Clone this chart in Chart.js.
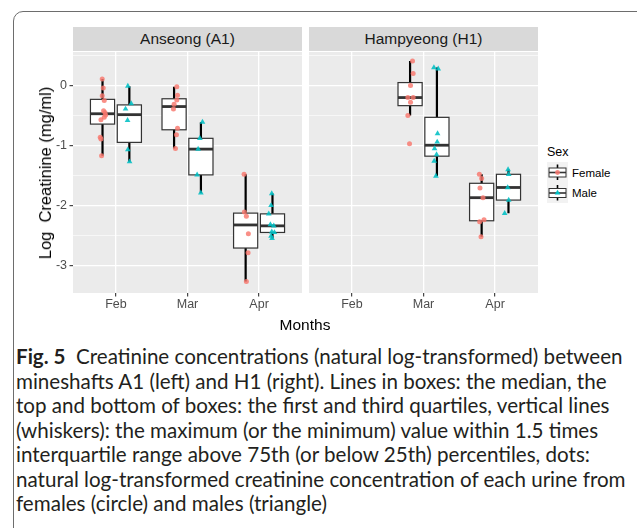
<!DOCTYPE html>
<html><head><meta charset="utf-8">
<script src="https://cdn.jsdelivr.net/npm/chart.js@4.4.0/dist/chart.umd.min.js"></script>
<style>
html,body{margin:0;padding:0;background:#fff;}
body{width:637px;height:528px;position:relative;overflow:hidden;font-family:"Liberation Sans",Arial,sans-serif;}
.frame{position:absolute;left:13px;top:11px;width:660px;height:580px;border:1px solid #6d6d6d;border-radius:10px;box-sizing:border-box;}
.strip{position:absolute;top:27px;height:24px;background:#d9d9d9;color:#1a1a1a;font-size:15.5px;line-height:24px;text-align:center;white-space:nowrap;}
canvas{position:absolute;}
#ytitle{position:absolute;left:45px;top:172.5px;transform:translate(-50%,-50%) rotate(-90deg);white-space:pre;font-size:16.5px;color:#000;line-height:20px;}
#xtitle{position:absolute;left:305px;top:325px;transform:translate(-50%,-50%);font-size:15.5px;color:#000;white-space:nowrap;line-height:20px;}
#legtitle{position:absolute;left:547px;top:144px;font-size:12.5px;color:#000;line-height:16px;}
.leglab{position:absolute;left:572px;font-size:11.5px;color:#000;line-height:14px;}
#caption{position:absolute;left:16px;top:344px;font-family:Lato,"Noto Sans",sans-serif;color:#231f20;}
#caption div{height:24.5px;line-height:24.5px;white-space:nowrap;}
#caption span{display:inline-block;}
</style>
</head><body>
<div class="frame"></div>
<div class="strip" id="s1"></div>
<div class="strip" id="s2"></div>
<canvas id="c1" width="302" height="281" style="left:0;top:52px"></canvas>
<canvas id="c2" width="229" height="281" style="left:309px;top:52px"></canvas>
<div id="ytitle">Log  Creatinine (mg/ml)</div>
<div id="xtitle">Months</div>
<div id="legtitle">Sex</div>
<svg width="21" height="41" style="position:absolute;left:547px;top:162px">
  <rect x="0" y="0" width="21" height="41" fill="#f2f2f2"/>
  <line x1="10.5" y1="2.5" x2="10.5" y2="18" stroke="#000" stroke-width="1.6"/>
  <rect x="2" y="6" width="17" height="9" fill="#fff" stroke="#333" stroke-width="1"/>
  <line x1="2" y1="10.5" x2="19" y2="10.5" stroke="#333" stroke-width="1.6"/>
  <circle cx="10.5" cy="10.5" r="2.4" fill="rgba(248,118,109,0.85)"/>
  <line x1="10.5" y1="23" x2="10.5" y2="38.5" stroke="#000" stroke-width="1.6"/>
  <rect x="2" y="26.5" width="17" height="9" fill="#fff" stroke="#333" stroke-width="1"/>
  <line x1="2" y1="31" x2="19" y2="31" stroke="#333" stroke-width="1.6"/>
  <polygon points="10.5,27.8 13.3,32.6 7.7,32.6" fill="#00bfc4"/>
</svg>
<div class="leglab" id="lf" style="top:165.5px"></div>
<div class="leglab" id="lm" style="top:186px"></div>
<div id="caption">
<div><span><b>Fig. 5</b>&nbsp; Creatinine concentrations (natural log-transformed) between</span></div>
<div><span>mineshafts A1 (left) and H1 (right). Lines in boxes: the median, the</span></div>
<div><span>top and bottom of boxes: the first and third quartiles, vertical lines</span></div>
<div><span>(whiskers): the maximum (or the minimum) value within 1.5 times</span></div>
<div><span>interquartile range above 75th (or below 25th) percentiles, dots:</span></div>
<div><span>natural log-transformed creatinine concentration of each urine from</span></div>
<div><span>females (circle) and males (triangle)</span></div>
</div>
<script>
// ---------------- data ----------------
const months = ['Feb', 'Mar', 'Apr'];
const panels = ['Anseong (A1)', 'Hampyeong (H1)'];
const sexes = ['Female', 'Male'];
const yMajorTicks = [-3, -2, -1, 0];
const yMinorTicks = [-2.5, -1.5, -0.5, 0.5];

// log creatinine per month [Feb, Mar, Apr]
const a1Female = [
  [0.11, -0.04, -0.17, -0.25, -0.42, -0.45, -0.49, -0.53, -0.57, -0.86, -0.89, -1.17],
  [-0.02, -0.16, -0.24, -0.31, -0.39, -0.71, -0.82, -1.05],
  [-1.48, -2.11, -2.18, -2.47, -2.79, -3.27]
];
const a1Male = [
  [-0.01, -0.30, -0.39, -0.58, -1.07, -1.27],
  [-0.61, -0.88, -1.06, -1.49, -1.79],
  [-1.80, -2.00, -2.14, -2.32, -2.34, -2.44, -2.45, -2.51, -2.55]
];
const h1Female = [
  [],
  [0.41, 0.20, 0.00, -0.20, -0.20, -0.28, -0.50, -0.97],
  [-1.48, -1.55, -1.71, -1.87, -2.24, -2.27, -2.52]
];
const h1Male = [
  [],
  [0.30, 0.28, -0.80, -0.94, -1.05, -1.15, -1.26, -1.51],
  [-1.40, -1.48, -1.70, -1.91, -2.13]
];
// horizontal jitter of each dot (category units)
const a1FemaleJit = [
  [-0.004, 0.010, -0.004, 0.024, 0.015, 0.034, 0.043, 0.024, -0.022, -0.032, -0.022, -0.013],
  [0.038, 0.048, 0.038, 0.000, -0.009, 0.048, 0.033, 0.019],
  [-0.022, -0.018, 0.010, 0.038, 0.034, 0.010]
];
const a1MaleJit = [
  [-0.021, 0.026, -0.053, -0.025, -0.021, 0.003],
  [0.022, -0.015, -0.039, -0.053, -0.001],
  [-0.010, -0.020, -0.052, -0.029, 0.018, -0.010, 0.027, -0.020, -0.006]
];
const h1FemaleJit = [
  [],
  [0.034, 0.043, 0.006, -0.031, 0.043, 0.006, -0.031, -0.008],
  [-0.032, 0.000, -0.023, 0.019, 0.033, -0.028, -0.009]
];
const h1MaleJit = [
  [],
  [-0.042, 0.018, 0.009, 0.004, -0.033, -0.005, -0.038, -0.014],
  [-0.006, 0.003, -0.011, 0.003, -0.053]
];

// ---------------- text ----------------
document.getElementById('s1').textContent = panels[0];
document.getElementById('s2').textContent = panels[1];
document.getElementById('lf').textContent = sexes[0];
document.getElementById('lm').textContent = sexes[1];
const s1 = document.getElementById('s1'); s1.style.left = '73px'; s1.style.width = '229px';
const s2 = document.getElementById('s2'); s2.style.left = '309px'; s2.style.width = '229px';

// ---------------- helpers ----------------
const DODGE = 0.1875, HALF = 0.16875;
const FAM = '"Liberation Sans", Arial, sans-serif';
function q7(s, p) { const h = (s.length - 1) * p, lo = Math.floor(h), hi = Math.min(lo + 1, s.length - 1); return s[lo] + (h - lo) * (s[hi] - s[lo]); }
function boxStats(vals) {
  const s = [...vals].sort((a, b) => a - b);
  const q1 = q7(s, 0.25), med = q7(s, 0.5), q3 = q7(s, 0.75), iqr = q3 - q1;
  const lo = s.find(v => v >= q1 - 1.5 * iqr);
  const hi = [...s].reverse().find(v => v <= q3 + 1.5 * iqr);
  return { q1, med, q3, lo, hi };
}
function dots(groups, jit, off) {
  const out = [];
  groups.forEach((g, i) => g.forEach((v, j) => out.push({ x: i + 1 + off + jit[i][j], y: v })));
  return out;
}
function noPad(s) { s.paddingTop = 0; s.paddingBottom = 0; s.paddingLeft = 0; s.paddingRight = 0; }
function boxPlugin(fem, mal) {
  return {
    id: 'boxes',
    beforeDraw(chart) {
      const { ctx, chartArea: a } = chart;
      ctx.save(); ctx.fillStyle = '#ebebeb'; ctx.fillRect(a.left, a.top, a.right - a.left, a.bottom - a.top); ctx.restore();
    },
    beforeDatasetsDraw(chart) {
      const { ctx } = chart; const xs = chart.scales.x, ys = chart.scales.y;
      [[fem, -DODGE], [mal, DODGE]].forEach(([groups, off]) => {
        groups.forEach((g, i) => {
          if (!g.length) return;
          const st = boxStats(g); const c = i + 1 + off;
          const px = xs.getPixelForValue(c), l = xs.getPixelForValue(c - HALF), r = xs.getPixelForValue(c + HALF);
          const yq1 = ys.getPixelForValue(st.q1), yq3 = ys.getPixelForValue(st.q3), ym = ys.getPixelForValue(st.med);
          ctx.save();
          ctx.strokeStyle = '#000'; ctx.lineWidth = 2.2; ctx.lineCap = 'butt';
          ctx.beginPath();
          ctx.moveTo(px, ys.getPixelForValue(st.hi)); ctx.lineTo(px, yq3);
          ctx.moveTo(px, yq1); ctx.lineTo(px, ys.getPixelForValue(st.lo));
          ctx.stroke();
          ctx.fillStyle = '#fff'; ctx.strokeStyle = '#333'; ctx.lineWidth = 1.2;
          ctx.fillRect(l, yq3, r - l, yq1 - yq3); ctx.strokeRect(l, yq3, r - l, yq1 - yq3);
          ctx.lineWidth = 2.8; ctx.beginPath(); ctx.moveTo(l, ym); ctx.lineTo(r, ym); ctx.stroke();
          ctx.restore();
        });
      });
    }
  };
}
function makeChart(id, fem, mal, femJit, malJit, showY) {
  return new Chart(document.getElementById(id), {
    type: 'scatter',
    data: {
      datasets: [
        { label: sexes[0], data: dots(fem, femJit, -DODGE), pointStyle: 'circle', pointRadius: 2.5, backgroundColor: 'rgba(248,118,109,0.82)', borderWidth: 0 },
        { label: sexes[1], data: dots(mal, malJit, DODGE), pointStyle: 'triangle', pointRadius: 3.3, backgroundColor: 'rgba(0,191,196,0.88)', borderWidth: 0 }
      ]
    },
    options: {
      responsive: false, animation: false, events: [],
      layout: { padding: 0, autoPadding: false },
      plugins: { legend: { display: false }, tooltip: { enabled: false } },
      scales: {
        x: {
          type: 'linear', min: 0.4, max: 3.6,
          afterBuildTicks: s => { s.ticks = months.map((m, i) => ({ value: i + 1 })); },
          afterFit: s => { s.height = 40; noPad(s); },
          ticks: { callback: v => months[Math.round(v) - 1] || '', color: '#4d4d4d', font: { size: 12.5, family: FAM }, padding: 1, maxRotation: 0, autoSkip: false },
          grid: { color: '#ffffff', lineWidth: 1.3, tickColor: '#333', tickLength: 3.5, tickWidth: 1.1 },
          border: { display: false }
        },
        y: {
          type: 'linear', min: -3.46, max: 0.56,
          afterBuildTicks: s => { s.ticks = [...yMinorTicks, ...yMajorTicks].sort((a, b) => a - b).map(v => ({ value: v })); },
          afterFit: s => { s.width = showY ? 73 : 0; noPad(s); },
          ticks: { display: showY, callback: v => yMajorTicks.includes(v) ? String(v) : '', color: '#4d4d4d', font: { size: 12.5, family: FAM }, padding: 2.5, autoSkip: false },
          grid: {
            color: '#ffffff',
            lineWidth: c => yMajorTicks.includes(c.tick.value) ? 1.3 : 0.6,
            drawTicks: showY,
            tickColor: c => yMajorTicks.includes(c.tick.value) ? '#333' : 'rgba(0,0,0,0)',
            tickLength: 3.5, tickWidth: 1.1
          },
          border: { display: false }
        }
      }
    },
    plugins: [boxPlugin(fem, mal)]
  });
}
makeChart('c1', a1Female, a1Male, a1FemaleJit, a1MaleJit, true);
makeChart('c2', h1Female, h1Male, h1FemaleJit, h1MaleJit, false);

// fit caption
function fitCaption() {
  const cap = document.getElementById('caption');
  cap.style.fontSize = '20px';
  const first = cap.querySelector('span');
  const w = first.getBoundingClientRect().width;
  cap.style.fontSize = (20 * 607 / w) + 'px';
}
fitCaption();
if (document.fonts && document.fonts.ready) document.fonts.ready.then(fitCaption);
</script>
</body></html>
